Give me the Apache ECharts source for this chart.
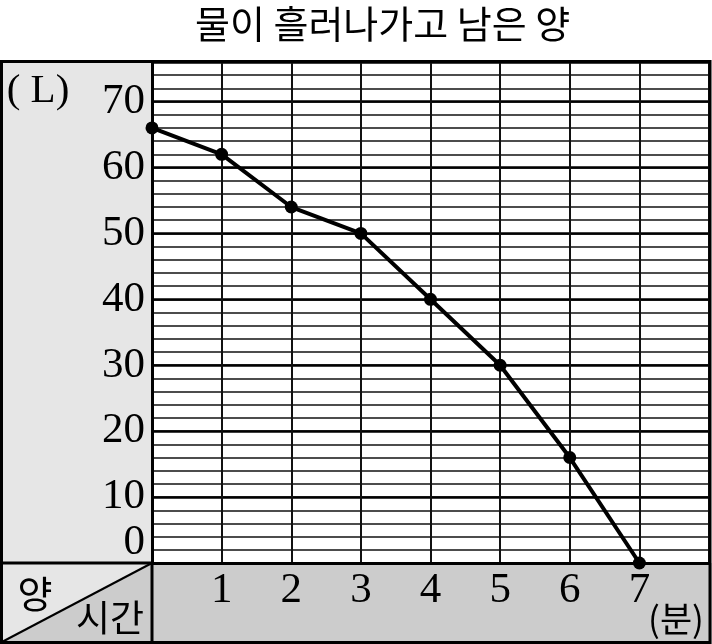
<!DOCTYPE html>
<html>
<head>
<meta charset="utf-8">
<script src="https://cdn.jsdelivr.net/npm/echarts@6/dist/echarts.min.js"></script>
<style>
html,body{margin:0;padding:0;background:#fff;}
#chart{width:712px;height:644px;}
</style>
</head>
<body>
<div id="chart"></div>
<script>
// Data
var titleText = '물이 흘러나가고 남은 양';
var minutes = [0, 1, 2, 3, 4, 5, 6, 7];
var litres = [66, 62, 54, 50, 40, 30, 16, 0];
var xTickLabels = ['1', '2', '3', '4', '5', '6', '7'];
var yTickLabels = ['0', '10', '20', '30', '40', '50', '60', '70'];
var yUnit = '( L)';
var xUnit = '(분)';
var cornerTop = '양';
var cornerBottom = '시간';

var serif = '"Liberation Serif", "DejaVu Serif", serif';
var kr = '"Noto Sans CJK KR", sans-serif';

var chart = echarts.init(document.getElementById('chart'), null, {renderer: 'canvas'});

var points = minutes.map(function (m, i) { return [m, litres[i]]; });

var option = {
  backgroundColor: '#ffffff',
  animation: false,
  title: {
    text: titleText,
    left: 190,
    top: 0,
    textStyle: {fontFamily: kr, fontSize: 38, fontWeight: 'normal', color: '#000'}
  },
  grid: {
    left: 152, right: 2, top: 62, bottom: 81,
    show: true, backgroundColor: '#ffffff', borderWidth: 0
  },
  xAxis: {
    type: 'value', min: 0, max: 8, interval: 1,
    axisLine: {show: true, lineStyle: {color: '#000', width: 3}},
    axisTick: {show: false},
    splitLine: {show: true, lineStyle: {color: '#111', width: 2}},
    axisLabel: {
      margin: 6,
      fontFamily: serif, fontSize: 43, color: '#000',
      formatter: function (v) {
        var s = String(v);
        return xTickLabels.indexOf(s) >= 0 ? s : '';
      }
    }
  },
  yAxis: [
    {
      type: 'value', min: 0, max: 76, interval: 2,
      axisLine: {show: false},
      axisTick: {show: false},
      axisLabel: {show: false},
      splitLine: {show: true, lineStyle: {color: '#111', width: 1.7}}
    },
    {
      type: 'value', min: 0, max: 76, interval: 10, position: 'left',
      axisLine: {show: true, lineStyle: {color: '#000', width: 3}},
      axisTick: {show: false},
      splitLine: {show: true, lineStyle: {color: '#000', width: 2.6}},
      axisLabel: {
        margin: 7,
        fontFamily: serif, fontSize: 43, color: '#000',
        formatter: function (v) {
          var s = String(v);
          if (yTickLabels.indexOf(s) < 0) return '';
          return v === 0 ? '{z|' + s + '}' : s;
        },
        rich: {
          z: {fontFamily: serif, fontSize: 43, color: '#000', padding: [0, 0, 40, 0]}
        }
      }
    }
  ],
  graphic: [
    {type: 'rect', z: -10, shape: {x: 0, y: 61, width: 152, height: 502}, style: {fill: '#e6e6e6'}},
    {type: 'rect', z: -10, shape: {x: 152, y: 563, width: 560, height: 81}, style: {fill: '#cccccc'}},
    {type: 'polygon', z: -10, shape: {points: [[0, 563], [152, 563], [0, 643]]}, style: {fill: '#e6e6e6'}},
    {type: 'polygon', z: -10, shape: {points: [[152, 563], [152, 643], [0, 643]]}, style: {fill: '#cccccc'}},
    {type: 'line', z: 50, shape: {x1: 0, y1: 643, x2: 152, y2: 563}, style: {stroke: '#000', lineWidth: 2}},
    {type: 'line', z: 50, shape: {x1: 0, y1: 563, x2: 152, y2: 563}, style: {stroke: '#000', lineWidth: 3}},
    {type: 'line', z: 50, shape: {x1: 152, y1: 563, x2: 152, y2: 643}, style: {stroke: '#000', lineWidth: 3}},
    {type: 'rect', z: 60, shape: {x: 1.5, y: 61.5, width: 708.5, height: 581}, style: {fill: null, stroke: '#000', lineWidth: 3}},
    {type: 'text', z: 70, x: 38, y: 91, style: {text: yUnit, fontFamily: serif, fontSize: 41, fill: '#000', align: 'center', verticalAlign: 'middle'}},
    {type: 'text', z: 70, x: 35, y: 594, style: {text: cornerTop, fontFamily: kr, fontSize: 38, fill: '#000', align: 'center', verticalAlign: 'middle'}},
    {type: 'text', z: 70, x: 110, y: 618, style: {text: cornerBottom, fontFamily: kr, fontSize: 37, fill: '#000', align: 'center', verticalAlign: 'middle'}},
    {type: 'text', z: 70, x: 676, y: 619, style: {text: xUnit, fontFamily: kr, fontSize: 35, fill: '#000', align: 'center', verticalAlign: 'middle'}}
  ],
  series: [{
    type: 'line',
    yAxisIndex: 0,
    data: points,
    clip: false,
    z: 20,
    symbol: 'circle',
    symbolSize: 13,
    itemStyle: {color: '#000'},
    lineStyle: {color: '#000', width: 4}
  }]
};
chart.setOption(option);
</script>
</body>
</html>
